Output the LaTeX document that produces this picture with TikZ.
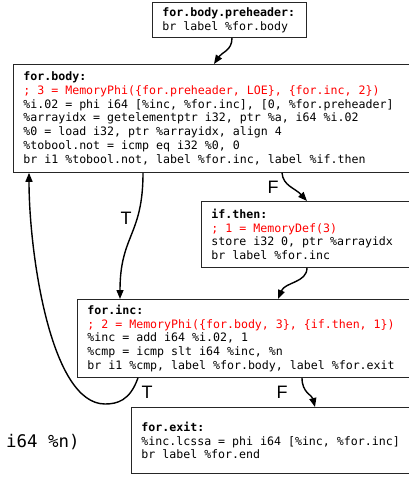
\documentclass[tikz,border=0pt]{standalone}
\usepackage{fontspec}
\setmainfont{Liberation Sans}
\newfontfamily\codefont{DejaVu Sans Mono}
\newcommand{\codesetup}{\codefont\fontsize{11.6}{13.9}\selectfont\spaceskip=0.602em plus 0pt minus 0pt\relax}
\newcommand{\fragsetup}{\codefont\fontsize{17.4}{20}\selectfont\spaceskip=0.602em plus 0pt minus 0pt\relax}
\usetikzlibrary{arrows.meta}
\tikzset{
  blk/.style={draw=black!85, line width=0.8pt, rectangle, anchor=north west, align=flush left,
    inner xsep=10pt, inner ysep=0pt, font=\codesetup, execute at begin node=\codesetup},
  edge/.style={draw=black, line width=1.4pt, -{Triangle[length=9pt,width=7pt]}},
  lbl/.style={font=\fontsize{18}{20}\selectfont, inner sep=0pt},
  frag/.style={font=\fragsetup, anchor=west, inner sep=0pt},
}
\begin{document}
\begin{tikzpicture}[x=1pt,y=-1pt]
\useasboundingbox (0,0) rectangle (409,477);
\clip (0,0) rectangle (409,477);
\fill[white] (0,0) rectangle (409,477);

\node[blk, text width=134pt, minimum height=35pt] (pre) at (152,2)
  {\textbf{for.body.preheader:}\\br label \%for.body};

\node[blk, text width=380pt, minimum height=108pt] (body) at (13,64)
  {\textbf{for.body:}\\
   \textcolor{red}{; 3 = MemoryPhi(\{for.preheader, LOE\}, \{for.inc, 2\})}\\
   \%i.02 = phi i64 [\%inc, \%for.inc], [0, \%for.preheader]\\
   \%arrayidx = getelementptr i32, ptr \%a, i64 \%i.02\\
   \%0 = load i32, ptr \%arrayidx, align 4\\
   \%tobool.not = icmp eq i32 \%0, 0\\
   br i1 \%tobool.not, label \%for.inc, label \%if.then};

\node[blk, text width=195pt, minimum height=66pt] (ifthen) at (201,201)
  {\textbf{if.then:}\\
   \textcolor{red}{; 1 = MemoryDef(3)}\\
   store i32 0, ptr \%arrayidx\\
   br label \%for.inc};

\node[blk, text width=320pt, minimum height=78pt] (inc) at (77,299)
  {\textbf{for.inc:}\\
   \textcolor{red}{; 2 = MemoryPhi(\{for.body, 3\}, \{if.then, 1\})}\\
   \%inc = add i64 \%i.02, 1\\
   \%cmp = icmp slt i64 \%inc, \%n\\
   br i1 \%cmp, label \%for.body, label \%for.exit};

\node[blk, text width=265pt, minimum height=66pt] (exit) at (131,407)
  {\textbf{for.exit:}\\
   \%inc.lcssa = phi i64 [\%inc, \%for.inc]\\
   br label \%for.end};

\node[frag] (frag) at (6,442) {i64 \%n)};

\node[lbl] (t1) at (126,218) {T};
\node[lbl] (f1) at (273,187) {F};
\node[lbl] (t2) at (147,392) {T};
\node[lbl] (f2) at (282,392) {F};

\coordinate (loopb) at (105,404);

\draw[edge] ([xshift=80pt]pre.south west) .. controls +(0,13) and +(8,-12) .. ([xshift=201pt]body.north west);
\draw[edge] ([xshift=130pt]body.south west) .. controls +(0,63) and +(0,-64) .. ([xshift=43pt]inc.north west);
\draw[edge] ([xshift=269pt]body.south west) .. controls +(1,13) and +(-12,-13) .. ([xshift=106pt]ifthen.north west);
\draw[edge] ([xshift=106pt]ifthen.south west) .. controls +(0,15) and +(7,-17) .. ([xshift=201pt]inc.north west);
\draw[edge] ([xshift=61pt]inc.south west) .. controls +(-8,23) and +(12,0) .. (loopb)
   .. controls +(-55,0) and +(0,78) .. ([xshift=16pt]body.south west);
\draw[edge] ([xshift=225pt]inc.south west) .. controls +(0,15) and +(-3,-12) .. ([xshift=184pt]exit.north west);
\end{tikzpicture}
\end{document}
